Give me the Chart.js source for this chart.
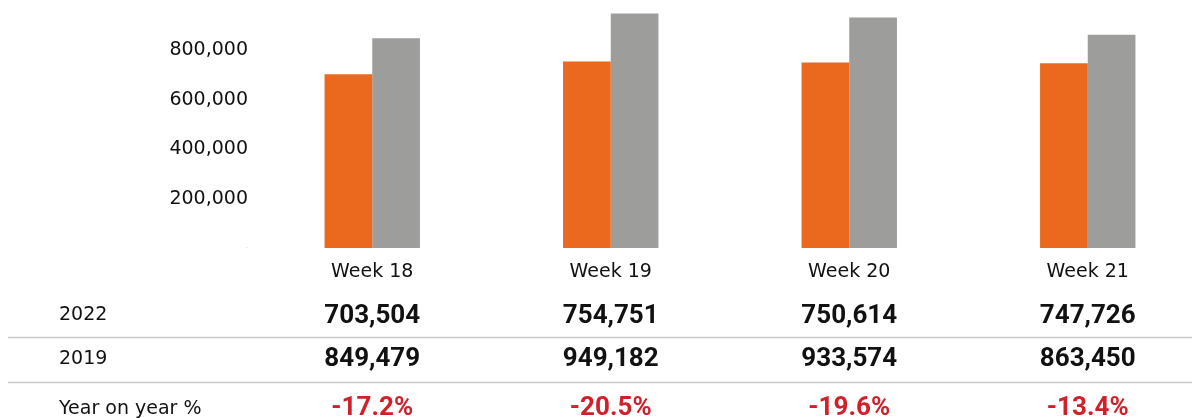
<!DOCTYPE html>
<html>
<head>
<meta charset="utf-8">
<script src="https://cdn.jsdelivr.net/npm/chart.js@4/dist/chart.umd.min.js"></script>
<style>
  html, body { margin: 0; padding: 0; background: #fff; overflow: hidden; width: 1192px; height: 418px; }
  #wrap { position: relative; width: 1207px; height: 418px; }
</style>
</head>
<body>
<div id="wrap"><canvas id="c" width="1207" height="418"></canvas></div>
<script>
const categories = ['Week 18', 'Week 19', 'Week 20', 'Week 21'];
const values2022 = [703504, 754751, 750614, 747726];
const values2019 = [849479, 949182, 933574, 863450];
const rowLabels = ['2022', '2019', 'Year on year %'];
const yTicks = [0, 200000, 400000, 600000, 800000, 1000000];

const ORANGE = '#EA691F';
const GREY = '#9D9D9C';
const RED = '#D0202A';
const TEXT = '#111111';
const FONT = '"DejaVu Sans", sans-serif';
const BOLD = 'Roboto, "Liberation Sans", sans-serif';

const fmt = v => v.toLocaleString('en-US');
const yoy = values2022.map((v, i) => ((v / values2019[i] - 1) * 100).toFixed(1) + '%');

const tablePlugin = {
  id: 'tablePlugin',
  afterDraw(chart) {
    const ctx = chart.ctx;
    const x = chart.scales.x;
    ctx.save();
    ctx.strokeStyle = '#C8C8C8';
    ctx.lineWidth = 1.5;
    [337.5, 382.5].forEach(y => {
      ctx.beginPath();
      ctx.moveTo(8, y);
      ctx.lineTo(chart.width, y);
      ctx.stroke();
    });
    ctx.textBaseline = 'middle';
    ctx.textAlign = 'center';
    ctx.fillStyle = TEXT;
    ctx.font = '19px ' + FONT;
    categories.forEach((c, i) => ctx.fillText(c, x.getPixelForValue(i), 272));
    ctx.textAlign = 'left';
    const rowY = [315, 359, 409];
    rowLabels.forEach((l, r) => ctx.fillText(l, 59, rowY[r]));
    ctx.textAlign = 'center';
    ctx.font = 'bold 26px ' + BOLD;
    const valY = [316, 359, 408];
    categories.forEach((c, i) => {
      const cx = x.getPixelForValue(i);
      ctx.fillStyle = TEXT;
      ctx.fillText(fmt(values2022[i]), cx, valY[0]);
      ctx.fillText(fmt(values2019[i]), cx, valY[1]);
      ctx.fillStyle = RED;
      ctx.fillText(yoy[i], cx, valY[2]);
    });
    ctx.restore();
  }
};

new Chart(document.getElementById('c'), {
  type: 'bar',
  data: {
    labels: categories,
    datasets: [
      { label: '2022', data: values2022, backgroundColor: ORANGE, categoryPercentage: 0.4, barPercentage: 1.0 },
      { label: '2019', data: values2019, backgroundColor: GREY, categoryPercentage: 0.4, barPercentage: 1.0 }
    ]
  },
  options: {
    responsive: false,
    devicePixelRatio: 1,
    animation: false,
    layout: { padding: { top: 1, bottom: 170, left: 0, right: 0 } },
    plugins: { legend: { display: false }, tooltip: { enabled: false } },
    scales: {
      x: { display: false },
      y: {
        min: 0,
        max: 1000000,
        afterFit(s) { s.width = 253; s.paddingTop = 0; s.paddingBottom = 0; },
        afterBuildTicks(s) { s.ticks = yTicks.map(v => ({ value: v })); },
        grid: { display: false, drawTicks: false },
        border: { display: false },
        ticks: {
          padding: 5,
          color: ctx => ctx.tick && ctx.tick.value === 0 ? '#999' : TEXT,
          font: ctx => ctx.tick && ctx.tick.value === 0 ? { size: 5, family: FONT } : { size: 19, family: FONT },
          callback: v => v === 0 ? '-' : (v >= 1000000 ? null : fmt(v))
        }
      }
    }
  },
  plugins: [tablePlugin]
});
</script>
</body>
</html>
